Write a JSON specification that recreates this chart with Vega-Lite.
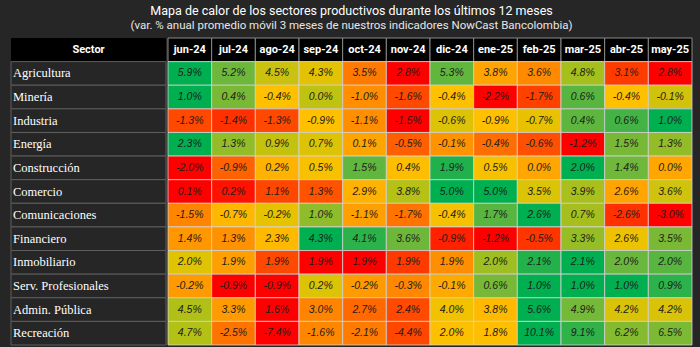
{
  "$schema": "https://vega.github.io/schema/vega-lite/v6.json",
  "background": "#262626",
  "padding": {"left": 10, "top": 4, "right": 11, "bottom": 4},
  "title": {
    "text": "Mapa de calor de los sectores productivos durante los últimos 12 meses",
    "subtitle": "(var. % anual promedio móvil 3 meses de nuestros indicadores NowCast Bancolombia)",
    "anchor": "middle",
    "color": "#ffffff",
    "subtitleColor": "#e6e6e6",
    "font": "Roboto",
    "subtitleFont": "Roboto",
    "fontSize": 12.5,
    "subtitleFontSize": 11.5,
    "fontWeight": "normal",
    "subtitlePadding": 3,
    "offset": 6
  },
  "datasets": {
    "head": [{"col": "Sector"}],
    "cells": [
      {"Sector": "Agricultura", "Mes": "jun-24", "v": 5.9},
      {"Sector": "Agricultura", "Mes": "jul-24", "v": 5.2},
      {"Sector": "Agricultura", "Mes": "ago-24", "v": 4.5},
      {"Sector": "Agricultura", "Mes": "sep-24", "v": 4.3},
      {"Sector": "Agricultura", "Mes": "oct-24", "v": 3.5},
      {"Sector": "Agricultura", "Mes": "nov-24", "v": 2.8},
      {"Sector": "Agricultura", "Mes": "dic-24", "v": 5.3},
      {"Sector": "Agricultura", "Mes": "ene-25", "v": 3.8},
      {"Sector": "Agricultura", "Mes": "feb-25", "v": 3.6},
      {"Sector": "Agricultura", "Mes": "mar-25", "v": 4.8},
      {"Sector": "Agricultura", "Mes": "abr-25", "v": 3.1},
      {"Sector": "Agricultura", "Mes": "may-25", "v": 2.8},
      {"Sector": "Minería", "Mes": "jun-24", "v": 1.0},
      {"Sector": "Minería", "Mes": "jul-24", "v": 0.4},
      {"Sector": "Minería", "Mes": "ago-24", "v": -0.4},
      {"Sector": "Minería", "Mes": "sep-24", "v": 0.0},
      {"Sector": "Minería", "Mes": "oct-24", "v": -1.0},
      {"Sector": "Minería", "Mes": "nov-24", "v": -1.6},
      {"Sector": "Minería", "Mes": "dic-24", "v": -0.4},
      {"Sector": "Minería", "Mes": "ene-25", "v": -2.2},
      {"Sector": "Minería", "Mes": "feb-25", "v": -1.7},
      {"Sector": "Minería", "Mes": "mar-25", "v": 0.6},
      {"Sector": "Minería", "Mes": "abr-25", "v": -0.4},
      {"Sector": "Minería", "Mes": "may-25", "v": -0.1},
      {"Sector": "Industria", "Mes": "jun-24", "v": -1.3},
      {"Sector": "Industria", "Mes": "jul-24", "v": -1.4},
      {"Sector": "Industria", "Mes": "ago-24", "v": -1.3},
      {"Sector": "Industria", "Mes": "sep-24", "v": -0.9},
      {"Sector": "Industria", "Mes": "oct-24", "v": -1.1},
      {"Sector": "Industria", "Mes": "nov-24", "v": -1.5},
      {"Sector": "Industria", "Mes": "dic-24", "v": -0.6},
      {"Sector": "Industria", "Mes": "ene-25", "v": -0.9},
      {"Sector": "Industria", "Mes": "feb-25", "v": -0.7},
      {"Sector": "Industria", "Mes": "mar-25", "v": 0.4},
      {"Sector": "Industria", "Mes": "abr-25", "v": 0.6},
      {"Sector": "Industria", "Mes": "may-25", "v": 1.0},
      {"Sector": "Energía", "Mes": "jun-24", "v": 2.3},
      {"Sector": "Energía", "Mes": "jul-24", "v": 1.3},
      {"Sector": "Energía", "Mes": "ago-24", "v": 0.9},
      {"Sector": "Energía", "Mes": "sep-24", "v": 0.7},
      {"Sector": "Energía", "Mes": "oct-24", "v": 0.1},
      {"Sector": "Energía", "Mes": "nov-24", "v": -0.5},
      {"Sector": "Energía", "Mes": "dic-24", "v": -0.1},
      {"Sector": "Energía", "Mes": "ene-25", "v": -0.4},
      {"Sector": "Energía", "Mes": "feb-25", "v": -0.6},
      {"Sector": "Energía", "Mes": "mar-25", "v": -1.2},
      {"Sector": "Energía", "Mes": "abr-25", "v": 1.5},
      {"Sector": "Energía", "Mes": "may-25", "v": 1.3},
      {"Sector": "Construcción", "Mes": "jun-24", "v": -2.0},
      {"Sector": "Construcción", "Mes": "jul-24", "v": -0.9},
      {"Sector": "Construcción", "Mes": "ago-24", "v": 0.2},
      {"Sector": "Construcción", "Mes": "sep-24", "v": 0.5},
      {"Sector": "Construcción", "Mes": "oct-24", "v": 1.5},
      {"Sector": "Construcción", "Mes": "nov-24", "v": 0.4},
      {"Sector": "Construcción", "Mes": "dic-24", "v": 1.9},
      {"Sector": "Construcción", "Mes": "ene-25", "v": 0.5},
      {"Sector": "Construcción", "Mes": "feb-25", "v": 0.0},
      {"Sector": "Construcción", "Mes": "mar-25", "v": 2.0},
      {"Sector": "Construcción", "Mes": "abr-25", "v": 1.4},
      {"Sector": "Construcción", "Mes": "may-25", "v": 0.0},
      {"Sector": "Comercio", "Mes": "jun-24", "v": 0.1},
      {"Sector": "Comercio", "Mes": "jul-24", "v": 0.2},
      {"Sector": "Comercio", "Mes": "ago-24", "v": 1.1},
      {"Sector": "Comercio", "Mes": "sep-24", "v": 1.3},
      {"Sector": "Comercio", "Mes": "oct-24", "v": 2.9},
      {"Sector": "Comercio", "Mes": "nov-24", "v": 3.8},
      {"Sector": "Comercio", "Mes": "dic-24", "v": 5.0},
      {"Sector": "Comercio", "Mes": "ene-25", "v": 5.0},
      {"Sector": "Comercio", "Mes": "feb-25", "v": 3.5},
      {"Sector": "Comercio", "Mes": "mar-25", "v": 3.9},
      {"Sector": "Comercio", "Mes": "abr-25", "v": 2.6},
      {"Sector": "Comercio", "Mes": "may-25", "v": 3.6},
      {"Sector": "Comunicaciones", "Mes": "jun-24", "v": -1.5},
      {"Sector": "Comunicaciones", "Mes": "jul-24", "v": -0.7},
      {"Sector": "Comunicaciones", "Mes": "ago-24", "v": -0.2},
      {"Sector": "Comunicaciones", "Mes": "sep-24", "v": 1.0},
      {"Sector": "Comunicaciones", "Mes": "oct-24", "v": -1.1},
      {"Sector": "Comunicaciones", "Mes": "nov-24", "v": -1.7},
      {"Sector": "Comunicaciones", "Mes": "dic-24", "v": -0.4},
      {"Sector": "Comunicaciones", "Mes": "ene-25", "v": 1.7},
      {"Sector": "Comunicaciones", "Mes": "feb-25", "v": 2.6},
      {"Sector": "Comunicaciones", "Mes": "mar-25", "v": 0.7},
      {"Sector": "Comunicaciones", "Mes": "abr-25", "v": -2.6},
      {"Sector": "Comunicaciones", "Mes": "may-25", "v": -3.0},
      {"Sector": "Financiero", "Mes": "jun-24", "v": 1.4},
      {"Sector": "Financiero", "Mes": "jul-24", "v": 1.3},
      {"Sector": "Financiero", "Mes": "ago-24", "v": 2.3},
      {"Sector": "Financiero", "Mes": "sep-24", "v": 4.3},
      {"Sector": "Financiero", "Mes": "oct-24", "v": 4.1},
      {"Sector": "Financiero", "Mes": "nov-24", "v": 3.6},
      {"Sector": "Financiero", "Mes": "dic-24", "v": -0.9},
      {"Sector": "Financiero", "Mes": "ene-25", "v": -1.2},
      {"Sector": "Financiero", "Mes": "feb-25", "v": -0.5},
      {"Sector": "Financiero", "Mes": "mar-25", "v": 3.3},
      {"Sector": "Financiero", "Mes": "abr-25", "v": 2.6},
      {"Sector": "Financiero", "Mes": "may-25", "v": 3.5},
      {"Sector": "Inmobiliario", "Mes": "jun-24", "v": 1.97},
      {"Sector": "Inmobiliario", "Mes": "jul-24", "v": 1.93},
      {"Sector": "Inmobiliario", "Mes": "ago-24", "v": 1.89},
      {"Sector": "Inmobiliario", "Mes": "sep-24", "v": 1.86},
      {"Sector": "Inmobiliario", "Mes": "oct-24", "v": 1.86},
      {"Sector": "Inmobiliario", "Mes": "nov-24", "v": 1.88},
      {"Sector": "Inmobiliario", "Mes": "dic-24", "v": 1.92},
      {"Sector": "Inmobiliario", "Mes": "ene-25", "v": 2.01},
      {"Sector": "Inmobiliario", "Mes": "feb-25", "v": 2.08},
      {"Sector": "Inmobiliario", "Mes": "mar-25", "v": 2.09},
      {"Sector": "Inmobiliario", "Mes": "abr-25", "v": 2.04},
      {"Sector": "Inmobiliario", "Mes": "may-25", "v": 2.05},
      {"Sector": "Serv. Profesionales", "Mes": "jun-24", "v": -0.2},
      {"Sector": "Serv. Profesionales", "Mes": "jul-24", "v": -0.9},
      {"Sector": "Serv. Profesionales", "Mes": "ago-24", "v": -0.9},
      {"Sector": "Serv. Profesionales", "Mes": "sep-24", "v": 0.2},
      {"Sector": "Serv. Profesionales", "Mes": "oct-24", "v": -0.2},
      {"Sector": "Serv. Profesionales", "Mes": "nov-24", "v": -0.3},
      {"Sector": "Serv. Profesionales", "Mes": "dic-24", "v": -0.1},
      {"Sector": "Serv. Profesionales", "Mes": "ene-25", "v": 0.6},
      {"Sector": "Serv. Profesionales", "Mes": "feb-25", "v": 1.0},
      {"Sector": "Serv. Profesionales", "Mes": "mar-25", "v": 1.0},
      {"Sector": "Serv. Profesionales", "Mes": "abr-25", "v": 1.0},
      {"Sector": "Serv. Profesionales", "Mes": "may-25", "v": 0.9},
      {"Sector": "Admin. Pública", "Mes": "jun-24", "v": 4.5},
      {"Sector": "Admin. Pública", "Mes": "jul-24", "v": 3.3},
      {"Sector": "Admin. Pública", "Mes": "ago-24", "v": 1.6},
      {"Sector": "Admin. Pública", "Mes": "sep-24", "v": 3.0},
      {"Sector": "Admin. Pública", "Mes": "oct-24", "v": 2.7},
      {"Sector": "Admin. Pública", "Mes": "nov-24", "v": 2.4},
      {"Sector": "Admin. Pública", "Mes": "dic-24", "v": 4.0},
      {"Sector": "Admin. Pública", "Mes": "ene-25", "v": 3.8},
      {"Sector": "Admin. Pública", "Mes": "feb-25", "v": 5.6},
      {"Sector": "Admin. Pública", "Mes": "mar-25", "v": 4.9},
      {"Sector": "Admin. Pública", "Mes": "abr-25", "v": 4.2},
      {"Sector": "Admin. Pública", "Mes": "may-25", "v": 4.2},
      {"Sector": "Recreación", "Mes": "jun-24", "v": 4.7},
      {"Sector": "Recreación", "Mes": "jul-24", "v": -2.5},
      {"Sector": "Recreación", "Mes": "ago-24", "v": -7.4},
      {"Sector": "Recreación", "Mes": "sep-24", "v": -1.6},
      {"Sector": "Recreación", "Mes": "oct-24", "v": -2.1},
      {"Sector": "Recreación", "Mes": "nov-24", "v": -4.4},
      {"Sector": "Recreación", "Mes": "dic-24", "v": 2.0},
      {"Sector": "Recreación", "Mes": "ene-25", "v": 1.8},
      {"Sector": "Recreación", "Mes": "feb-25", "v": 10.1},
      {"Sector": "Recreación", "Mes": "mar-25", "v": 9.1},
      {"Sector": "Recreación", "Mes": "abr-25", "v": 6.2},
      {"Sector": "Recreación", "Mes": "may-25", "v": 6.5}
    ]
  },
  "spacing": 0,
  "hconcat": [
    {
      "width": 155,
      "height": 307,
      "layer": [
        {
          "data": {"name": "head"},
          "mark": {"type": "rect", "fill": "#000000"},
          "encoding": {
            "y": {"field": "col", "type": "nominal", "axis": null,
              "scale": {"domain": ["Sector", "Agricultura", "Minería", "Industria", "Energía", "Construcción", "Comercio", "Comunicaciones", "Financiero", "Inmobiliario", "Serv. Profesionales", "Admin. Pública", "Recreación"], "paddingInner": 0, "paddingOuter": 0}}
          }
        },
        {
          "data": {"name": "head"},
          "mark": {"type": "text", "color": "#ffffff", "font": "Roboto", "fontWeight": "bold", "fontSize": 11, "align": "center"},
          "encoding": {
            "x": {"datum": 0.5, "type": "quantitative", "scale": {"domain": [0, 1]}, "axis": null},
            "y": {"field": "col", "type": "nominal", "axis": null},
            "text": {"field": "col"}
          }
        },
        {
          "data": {"name": "cells"},
          "transform": [{"aggregate": [{"op": "count", "as": "n"}], "groupby": ["Sector"]}],
          "mark": {"type": "rect", "fill": "#262626", "stroke": "#5e5e5e", "strokeWidth": 1},
          "encoding": {
            "y": {"field": "Sector", "type": "nominal", "axis": null}
          }
        },
        {
          "data": {"name": "cells"},
          "transform": [{"aggregate": [{"op": "count", "as": "n"}], "groupby": ["Sector"]}],
          "mark": {"type": "text", "align": "left", "dx": 2, "color": "#ffffff", "font": "Liberation Serif", "fontSize": 12.5},
          "encoding": {
            "x": {"datum": 0, "type": "quantitative", "axis": null},
            "y": {"field": "Sector", "type": "nominal", "axis": null},
            "text": {"field": "Sector"}
          }
        }
      ]
    },
    {
      "width": 524,
      "height": 307,
      "encoding": {
        "x": {"field": "Mes", "type": "ordinal", "axis": null,
          "scale": {"domain": ["jun-24", "jul-24", "ago-24", "sep-24", "oct-24", "nov-24", "dic-24", "ene-25", "feb-25", "mar-25", "abr-25", "may-25"], "paddingInner": 0, "paddingOuter": 0}}
      },
      "layer": [
        {
          "data": {"name": "cells"},
          "transform": [{"aggregate": [{"op": "count", "as": "n"}], "groupby": ["Mes"]}],
          "mark": {"type": "rect", "fill": "#000000", "stroke": "#8a8a8a", "strokeWidth": 1},
          "encoding": {
            "y": {"datum": "Sector", "type": "nominal", "axis": null,
              "scale": {"domain": ["Sector", "Agricultura", "Minería", "Industria", "Energía", "Construcción", "Comercio", "Comunicaciones", "Financiero", "Inmobiliario", "Serv. Profesionales", "Admin. Pública", "Recreación"], "paddingInner": 0, "paddingOuter": 0}}
          }
        },
        {
          "data": {"name": "cells"},
          "transform": [{"aggregate": [{"op": "count", "as": "n"}], "groupby": ["Mes"]}],
          "mark": {"type": "text", "color": "#ffffff", "font": "Roboto", "fontWeight": "bold", "fontSize": 11},
          "encoding": {
            "y": {"datum": "Sector", "type": "nominal", "axis": null},
            "text": {"field": "Mes"}
          }
        },
        {
          "data": {"name": "cells"},
          "transform": [
            {"joinaggregate": [{"op": "min", "field": "v", "as": "lo"}, {"op": "max", "field": "v", "as": "hi"}, {"op": "median", "field": "v", "as": "md"}], "groupby": ["Sector"]},
            {"calculate": "datum.v <= datum.md ? 0.5 * (datum.v - datum.lo) / max(datum.md - datum.lo, 1e-9) : 0.5 + 0.5 * (datum.v - datum.md) / max(datum.hi - datum.md, 1e-9)", "as": "t"}
          ],
          "mark": {"type": "rect", "stroke": "#d4d4d4", "strokeWidth": 1, "strokeOpacity": 0.8},
          "encoding": {
            "y": {"field": "Sector", "type": "nominal", "axis": null},
            "color": {"field": "t", "type": "quantitative", "legend": null,
              "scale": {"domain": [0, 0.18, 0.35, 0.5, 0.6, 0.7, 0.8, 0.9, 1],
                "range": ["#ff0000", "#ff4b00", "#ff9500", "#ffc000", "#d4c30c", "#a6bf1c", "#72b83a", "#3fb345", "#00b050"]}}
          }
        },
        {
          "data": {"name": "cells"},
          "transform": [
            {"calculate": "(datum.v < 0 ? '-' : '') + format(abs(datum.v), '.1f') + '%'", "as": "lbl"}
          ],
          "mark": {"type": "text", "color": "#1c1c1c", "font": "Liberation Sans", "fontStyle": "italic", "fontSize": 10.5},
          "encoding": {
            "y": {"field": "Sector", "type": "nominal", "axis": null},
            "text": {"field": "lbl"}
          }
        }
      ]
    }
  ],
  "config": {"view": {"stroke": null}}
}
